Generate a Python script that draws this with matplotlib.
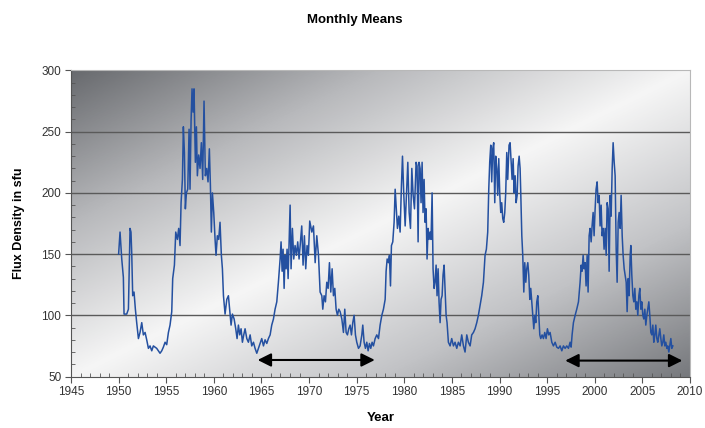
import numpy as np
import matplotlib
matplotlib.use('agg')
import matplotlib.pyplot as plt
from matplotlib.colors import LinearSegmentedColormap
from matplotlib.ticker import MultipleLocator

plt.rcParams['font.family'] = ['Liberation Sans', 'DejaVu Sans']

# monthly mean flux (decimal year, sfu)
years_50s = [1950.00, 1950.07, 1950.15, 1950.33, 1950.50, 1950.57, 1950.85, 1951.03, 1951.20, 1951.30,
             1951.38, 1951.48, 1951.62, 1951.76, 1951.90, 1952.08, 1952.25, 1952.43, 1952.60, 1952.78,
             1952.95, 1953.13, 1953.30, 1953.48, 1953.65, 1954.00, 1954.35, 1954.53, 1954.70, 1954.88,
             1955.05, 1955.23, 1955.40, 1955.58, 1955.68, 1955.86, 1956.00, 1956.17, 1956.31, 1956.45,
             1956.56, 1956.70, 1956.80, 1956.91, 1957.01, 1957.12, 1957.26, 1957.40, 1957.50, 1957.61,
             1957.71, 1957.82, 1957.92, 1958.06, 1958.17, 1958.27, 1958.41, 1958.55, 1958.69, 1958.83,
             1958.97, 1959.11, 1959.25, 1959.39, 1959.53, 1959.64, 1959.74, 1959.85, 1959.99]
flux_50s = [150, 158, 168, 146, 131, 101, 101, 105, 171, 168,
            150, 116, 119, 105, 94, 81, 86, 94, 84, 86,
            80, 73, 75, 71, 75, 73, 69, 71, 74, 78,
            76, 86, 92, 103, 130, 141, 168, 162, 171, 157,
            192, 211, 254, 233, 187, 200, 203, 252, 203, 259,
            285, 266, 285, 225, 254, 214, 231, 220, 241, 211,
            275, 214, 220, 209, 236, 206, 168, 200, 184]

years_60s = [1960.13, 1960.23, 1960.37, 1960.51, 1960.65, 1960.79, 1960.90, 1961.01, 1961.18, 1961.36,
             1961.53, 1961.71, 1961.81, 1961.95, 1962.13, 1962.30, 1962.44, 1962.58, 1962.72, 1962.86,
             1963.00, 1963.14, 1963.28, 1963.46, 1963.63, 1963.81, 1963.98, 1964.16, 1964.33, 1964.51,
             1964.68, 1964.86, 1965.03, 1965.21, 1965.38, 1965.56, 1965.73, 1965.91, 1966.08, 1966.26,
             1966.43, 1966.61, 1966.78, 1966.96, 1967.06, 1967.17, 1967.27, 1967.38, 1967.48, 1967.59,
             1967.69, 1967.80, 1967.90, 1968.01, 1968.11, 1968.25, 1968.39, 1968.53, 1968.67, 1968.81,
             1968.95, 1969.09, 1969.23, 1969.37, 1969.51, 1969.65, 1969.79, 1969.93]
flux_60s = [162, 149, 165, 162, 176, 149, 138, 116, 101, 113,
            116, 100, 92, 101, 97, 89, 81, 92, 84, 89,
            78, 84, 89, 81, 78, 84, 75, 78, 73, 69,
            73, 77, 81, 75, 80, 77, 81, 84, 92, 97,
            105, 111, 127, 146, 160, 136, 154, 122, 149, 138,
            154, 130, 160, 190, 138, 171, 146, 157, 149, 160,
            146, 160, 173, 141, 165, 138, 157, 149]

years_70s = [1970.07, 1970.29, 1970.46, 1970.64, 1970.81, 1970.99, 1971.16, 1971.34, 1971.44, 1971.58,
             1971.72, 1971.86, 1972.00, 1972.14, 1972.28, 1972.42, 1972.56, 1972.70, 1972.84, 1972.98,
             1973.12, 1973.26, 1973.44, 1973.61, 1973.75, 1973.89, 1974.03, 1974.17, 1974.31, 1974.45,
             1974.59, 1974.73, 1974.87, 1975.01, 1975.19, 1975.36, 1975.54, 1975.64, 1975.78, 1975.92,
             1976.06, 1976.20, 1976.34, 1976.48, 1976.62, 1976.76, 1976.94, 1977.11, 1977.29, 1977.46,
             1977.64, 1977.81, 1977.99, 1978.09, 1978.20, 1978.34, 1978.44, 1978.55, 1978.65, 1978.79,
             1978.93, 1979.04, 1979.14, 1979.28, 1979.42, 1979.56, 1979.70, 1979.81, 1979.95]
flux_70s = [177, 168, 173, 143, 165, 149, 119, 116, 105, 116,
            111, 127, 122, 143, 119, 138, 116, 122, 105, 100,
            105, 103, 97, 86, 105, 86, 84, 89, 92, 84,
            94, 100, 84, 78, 73, 75, 84, 92, 78, 73,
            78, 71, 77, 73, 78, 75, 81, 84, 81, 92,
            100, 105, 113, 136, 146, 143, 149, 124, 157, 160,
            176, 203, 190, 171, 181, 168, 206, 230, 198]

years_80s = [1980.09, 1980.23, 1980.37, 1980.51, 1980.65, 1980.79, 1980.93, 1981.07, 1981.24, 1981.34,
             1981.45, 1981.55, 1981.66, 1981.76, 1981.87, 1981.97, 1982.08, 1982.18, 1982.29, 1982.39,
             1982.50, 1982.60, 1982.71, 1982.81, 1982.92, 1983.02, 1983.13, 1983.23, 1983.34, 1983.44,
             1983.55, 1983.65, 1983.76, 1983.86, 1983.97, 1984.07, 1984.18, 1984.28, 1984.39, 1984.49,
             1984.63, 1984.81, 1984.98, 1985.16, 1985.33, 1985.51, 1985.68, 1985.86, 1986.03, 1986.21,
             1986.38, 1986.56, 1986.73, 1986.91, 1987.08, 1987.26, 1987.43, 1987.61, 1987.78, 1987.96,
             1988.13, 1988.31, 1988.48, 1988.62, 1988.76, 1988.87, 1988.97, 1989.08, 1989.18, 1989.29,
             1989.39, 1989.50, 1989.60, 1989.71, 1989.81, 1989.92]
flux_80s = [173, 198, 225, 184, 171, 220, 198, 187, 225, 222,
            160, 225, 220, 192, 225, 184, 211, 176, 187, 146,
            171, 162, 168, 162, 200, 138, 122, 127, 141, 116,
            138, 111, 94, 113, 116, 133, 141, 122, 100, 94,
            78, 75, 81, 75, 78, 73, 78, 75, 84, 75,
            70, 84, 78, 75, 84, 86, 89, 94, 100, 108,
            116, 127, 149, 154, 168, 203, 225, 239, 209, 236,
            241, 192, 230, 220, 198, 228]

years_90s = [1990.02, 1990.13, 1990.23, 1990.34, 1990.44, 1990.55, 1990.65, 1990.76, 1990.86, 1991.00,
             1991.11, 1991.22, 1991.32, 1991.43, 1991.53, 1991.64, 1991.74, 1991.85, 1991.95, 1992.06,
             1992.16, 1992.23, 1992.34, 1992.44, 1992.55, 1992.65, 1992.76, 1992.86, 1992.97, 1993.07,
             1993.18, 1993.28, 1993.39, 1993.49, 1993.60, 1993.70, 1993.81, 1993.91, 1994.02, 1994.12,
             1994.23, 1994.33, 1994.47, 1994.61, 1994.75, 1994.89, 1995.03, 1995.17, 1995.31, 1995.49,
             1995.66, 1995.84, 1996.01, 1996.19, 1996.36, 1996.54, 1996.71, 1996.89, 1997.06, 1997.24,
             1997.41, 1997.52, 1997.62, 1997.76, 1997.94, 1998.11, 1998.29, 1998.46, 1998.57, 1998.67,
             1998.78, 1998.88, 1998.99, 1999.09, 1999.20, 1999.30, 1999.41, 1999.51, 1999.62, 1999.72,
             1999.83, 1999.93]
flux_90s = [200, 184, 192, 179, 176, 184, 200, 233, 211, 239,
            241, 225, 211, 228, 200, 214, 192, 198, 222, 230,
            220, 200, 165, 149, 119, 143, 127, 138, 143, 133,
            113, 122, 111, 100, 89, 100, 94, 111, 116, 100,
            84, 81, 84, 81, 86, 81, 89, 84, 86, 78,
            75, 78, 74, 73, 75, 71, 75, 73, 75, 73,
            78, 74, 84, 94, 100, 105, 111, 127, 141, 136,
            149, 138, 143, 124, 149, 119, 165, 171, 160, 173,
            184, 165]

years_00s = [2000.04, 2000.14, 2000.25, 2000.35, 2000.46, 2000.56, 2000.67, 2000.77, 2000.88, 2000.98,
             2001.09, 2001.20, 2001.30, 2001.41, 2001.51, 2001.62, 2001.72, 2001.83, 2001.93, 2002.04,
             2002.14, 2002.25, 2002.35, 2002.46, 2002.56, 2002.67, 2002.77, 2002.88, 2002.98, 2003.09,
             2003.19, 2003.30, 2003.40, 2003.51, 2003.61, 2003.72, 2003.79, 2003.89, 2004.00, 2004.10,
             2004.21, 2004.31, 2004.42, 2004.52, 2004.63, 2004.73, 2004.84, 2004.94, 2005.05, 2005.15,
             2005.26, 2005.36, 2005.47, 2005.57, 2005.68, 2005.78, 2005.89, 2005.99, 2006.10, 2006.20,
             2006.31, 2006.41, 2006.52, 2006.62, 2006.73, 2006.83, 2006.94, 2007.04, 2007.15, 2007.25,
             2007.36, 2007.46, 2007.57, 2007.67, 2007.78, 2007.88, 2007.99, 2008.09, 2008.20]
flux_00s = [187, 203, 209, 192, 198, 173, 190, 165, 171, 154,
            171, 149, 192, 187, 136, 198, 181, 220, 241, 225,
            214, 154, 127, 176, 184, 171, 198, 165, 149, 138,
            133, 127, 103, 130, 116, 149, 157, 133, 116, 111,
            122, 105, 111, 100, 116, 122, 105, 111, 100, 97,
            105, 92, 100, 105, 111, 100, 86, 84, 92, 78,
            84, 92, 81, 78, 84, 89, 81, 75, 78, 84,
            75, 78, 73, 75, 70, 75, 81, 73, 75]

# the two double arrows under the minima (start year, end year, level)
arrow_spans = [(1964.6, 1976.9, 63.5), (1996.9, 2009.2, 63.0)]

years = years_50s + years_60s + years_70s + years_80s + years_90s + years_00s
flux = flux_50s + flux_60s + flux_70s + flux_80s + flux_90s + flux_00s

fig = plt.figure(figsize=(7.05, 4.28), dpi=100)
ax = fig.add_axes([0.1007, 0.1203, 0.878, 0.715])
ax.set_xlim(1945, 2010)
ax.set_ylim(50, 300)

# grey diagonal gradient behind the plot (dark top-left, light diagonal, grey bottom-right)
gx, gy = np.meshgrid(np.linspace(0, 1, 400), np.linspace(1, 0, 300))
s = (gx + (1 - gy)) / 2.0
cmap = LinearSegmentedColormap.from_list('bg', [(0.0, '#686a6e'), (0.25, '#b8b9bc'),
                                                (0.5, '#f6f6f6'), (0.75, '#c2c3c6'),
                                                (1.0, '#77797d')])
ax.imshow(s, extent=[1945, 2010, 50, 300], origin='upper', aspect='auto',
          cmap=cmap, vmin=0, vmax=1, zorder=0, interpolation='bilinear')

for yv in [100, 150, 200, 250]:
    ax.axhline(yv, color='#5a5a5a', lw=1.0, zorder=1)

ax.plot(years, flux, color='#2450a0', lw=1.1, zorder=3)

for x0, x1, yv in arrow_spans:
    ax.annotate('', xy=(x1, yv), xytext=(x0, yv),
                arrowprops=dict(arrowstyle='<|-|>', color='black', lw=1.5,
                                mutation_scale=20, shrinkA=0, shrinkB=0),
                zorder=4)

ax.xaxis.set_major_locator(MultipleLocator(5))
ax.xaxis.set_minor_locator(MultipleLocator(1))
ax.yaxis.set_major_locator(MultipleLocator(50))
ax.yaxis.set_minor_locator(MultipleLocator(10))
ax.tick_params(which='major', direction='out', length=4, color='#555555',
               labelsize=8.5, labelcolor='#333333', pad=3)
ax.tick_params(which='minor', direction='in', length=3, color='#555555')

for side in ['left', 'bottom']:
    ax.spines[side].set_color('#555555')
for side in ['top', 'right']:
    ax.spines[side].set_color('#b8b8b8')

ax.set_xlabel('Year', fontsize=9.5, fontweight='bold', labelpad=10)
ax.set_ylabel('Flux Density in sfu', fontsize=9, fontweight='bold', labelpad=12)
fig.text(0.503, 0.953, 'Monthly Means', ha='center', va='center',
         fontsize=9.5, fontweight='bold')

fig.savefig('out.png', dpi=100)
